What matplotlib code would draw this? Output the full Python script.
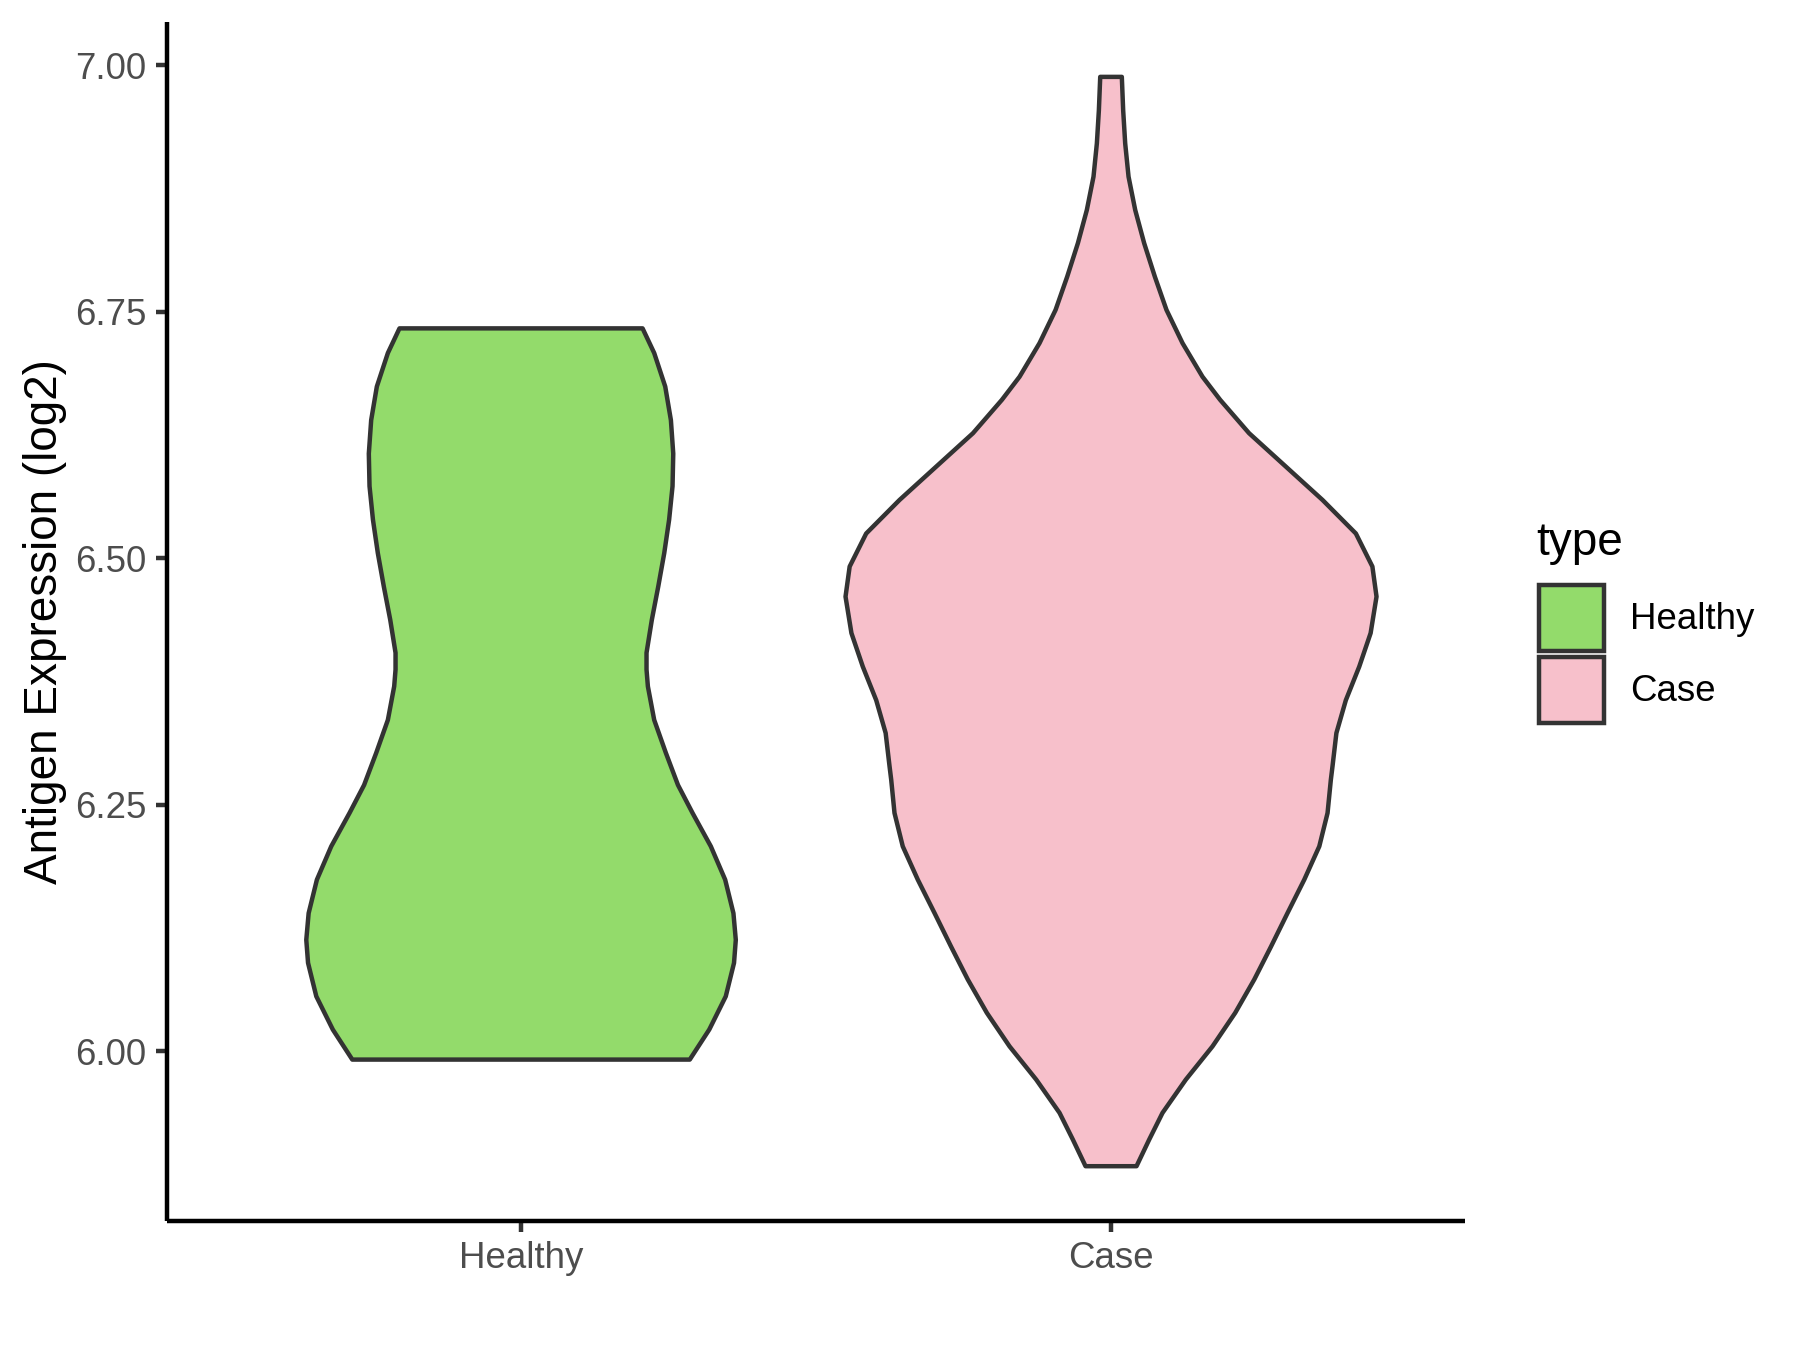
import numpy as np
import matplotlib
matplotlib.use("Agg")
import matplotlib.pyplot as plt
from matplotlib.patches import Patch

plt.rcParams['font.family'] = ['Liberation Sans', 'DejaVu Sans']

# groups shown on the x axis
categories = ['Healthy', 'Case']
fill_colors = ['#93DB6B', '#F7C0CB']

# violin outlines: y level and half width (x units)
healthy_y = [5.9916, 6.022, 6.0557, 6.0896, 6.113, 6.140, 6.174, 6.2078, 6.2416,
             6.270, 6.3025, 6.336, 6.370, 6.387, 6.404, 6.4375, 6.471, 6.505,
             6.539, 6.573, 6.606, 6.640, 6.674, 6.708, 6.733]
healthy_hw = [0.286, 0.319, 0.347, 0.361, 0.364, 0.360, 0.346, 0.3217, 0.2907,
              0.266, 0.2455, 0.2257, 0.215, 0.2127, 0.2127, 0.2217, 0.2325, 0.2427,
              0.251, 0.2568, 0.258, 0.254, 0.2444, 0.2257, 0.206]

case_y = [5.8835, 5.9105, 5.9376, 5.9713, 6.005, 6.039, 6.0727, 6.106, 6.140,
          6.174, 6.2078, 6.2416, 6.2754, 6.289, 6.3227, 6.356, 6.390, 6.424,
          6.461, 6.4915, 6.525, 6.559, 6.593, 6.6267, 6.6605, 6.684, 6.718,
          6.7517, 6.7854, 6.8193, 6.853, 6.8868, 6.9206, 6.954, 6.988]
case_hw = [0.0432, 0.0647, 0.0873, 0.1268, 0.172, 0.2105, 0.2427, 0.271, 0.299,
           0.3275, 0.353, 0.367, 0.3726, 0.3754, 0.382, 0.398, 0.4207, 0.440,
           0.450, 0.443, 0.415, 0.3585, 0.296, 0.234, 0.185, 0.155, 0.1212,
           0.094, 0.0743, 0.0562, 0.041, 0.0297, 0.024, 0.0206, 0.0183]

ytick_vals = [6.00, 6.25, 6.50, 6.75, 7.00]

fig = plt.figure(figsize=(6, 4.5), dpi=300)
ax = fig.add_axes([0.0928, 0.0958, 0.8139 - 0.0928, 0.9834 - 0.0958])

outline = '#333333'
lw = 1.07
profiles = [(healthy_y, healthy_hw), (case_y, case_hw)]
for i, (ys, hws) in enumerate(profiles):
    pos = i + 1
    ys = np.array(ys)
    hws = np.array(hws)
    xs = np.concatenate([pos - hws, (pos + hws)[::-1]])
    yy = np.concatenate([ys, ys[::-1]])
    ax.fill(xs, yy, facecolor=fill_colors[i], edgecolor=outline, linewidth=lw,
            joinstyle='round', zorder=2)

all_y = healthy_y + case_y
lo, hi = min(all_y), max(all_y)
pad = (hi - lo) * 0.05
ax.set_ylim(lo - pad, hi + pad)
ax.set_xlim(0.4, 2.6)

ax.set_xticks([1, 2])
ax.set_xticklabels(categories)
ax.set_yticks(ytick_vals)
ax.set_yticklabels(['%.2f' % v for v in ytick_vals])

for side in ['top', 'right']:
    ax.spines[side].set_visible(False)
for side in ['left', 'bottom']:
    ax.spines[side].set_linewidth(lw)
    ax.spines[side].set_color('black')
    ax.spines[side].set_capstyle('butt')

ax.tick_params(axis='both', length=2.75, width=lw, color=outline,
               labelsize=8.8, labelcolor='#4D4D4D', pad=2.2)
ax.set_ylabel('Antigen Expression (log2)', fontsize=11, color='black', labelpad=2)

# legend, ggplot-like: title placed by hand, square keys below it
handles = [Patch(facecolor=c, edgecolor=outline, linewidth=lw) for c in fill_colors]
fig.legend(handles, categories, loc='upper left',
           bbox_to_anchor=(0.8548, 0.5667), frameon=False, fontsize=8.8,
           handlelength=1.78, handleheight=2.385,
           handletextpad=0.72, labelspacing=0.17, borderpad=0,
           borderaxespad=0)
fig.text(0.8537, 1 - 555 / 1350, 'type', fontsize=11, color='black',
         ha='left', va='baseline')

fig.savefig('out.png', dpi=300, facecolor='white')
